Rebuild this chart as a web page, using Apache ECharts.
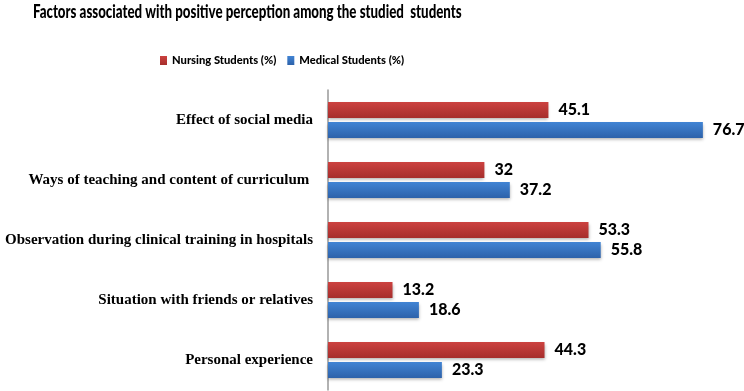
<!DOCTYPE html>
<html>
<head>
<meta charset="utf-8">
<script src="https://cdn.jsdelivr.net/npm/echarts@6/dist/echarts.min.js"></script>
<style>
  html, body { margin: 0; padding: 0; background: #fff; }
  #chart { width: 744px; height: 391px; }
</style>
</head>
<body>
<div id="chart"></div>
<script>
// categories, top to bottom
const categories = [
  "Effect of social media",
  "Ways of teaching and content of curriculum ",
  "Observation during clinical training in hospitals",
  "Situation with friends or relatives",
  "Personal experience"
];
const nursing = [45.1, 32, 53.3, 13.2, 44.3];
const medical = [76.7, 37.2, 55.8, 18.6, 23.3];
const seriesNames = ["Nursing Students (%)", "Medical Students (%)"];
const titleText = "Factors associated with positive perception among the studied  students";

const SANS = "Lato, sans-serif";

function grad(top, bottom) {
  return new echarts.graphic.LinearGradient(0, 0, 0, 1, [
    { offset: 0, color: top },
    { offset: 1, color: bottom }
  ]);
}

const valueLabel = {
  show: true,
  position: "right",
  distance: 10,
  color: "#000",
  fontWeight: 900,
  fontSize: 16,
  fontFamily: SANS
};

const chart = echarts.init(document.getElementById("chart"), null, { renderer: "canvas" });
chart.setOption({
  animation: false,
  // title drawn as graphic text so it can be narrowed like the original condensed font
  graphic: [{
    type: "text",
    left: 33,
    top: 2,
    scaleX: 0.7,
    originX: 0,
    style: {
      text: titleText,
      fontFamily: SANS,
      fontWeight: 900,
      fontSize: 19,
      fill: "#000"
    }
  }],
  legend: {
    top: 50,
    left: 155,
    itemWidth: 7,
    itemHeight: 9,
    itemGap: 11,
    icon: "rect",
    textStyle: { fontFamily: SANS, fontWeight: 900, fontSize: 11.2, color: "#000" },
    data: seriesNames
  },
  grid: { left: 328, top: 90, width: 391, bottom: 1, containLabel: false },
  xAxis: {
    type: "value",
    min: 0,
    max: 80,
    show: false
  },
  yAxis: {
    type: "category",
    inverse: true,
    data: categories,
    axisLine: { lineStyle: { color: "#999", width: 1.5 } },
    axisTick: { show: false },
    axisLabel: {
      margin: 15,
      color: "#000",
      fontFamily: "Liberation Serif",
      fontWeight: "bold",
      fontSize: 15
    }
  },
  series: [
    {
      name: seriesNames[0],
      type: "bar",
      data: nursing,
      barWidth: 16,
      barGap: "25%",
      itemStyle: { color: grad("#cc4240", "#a62e2c"), shadowColor: "rgba(0,0,0,0.3)", shadowBlur: 3, shadowOffsetY: 1.5 },
      label: valueLabel
    },
    {
      name: seriesNames[1],
      type: "bar",
      data: medical,
      barWidth: 16,
      itemStyle: { color: grad("#4184d4", "#2d62aa"), shadowColor: "rgba(0,0,0,0.3)", shadowBlur: 3, shadowOffsetY: 1.5 },
      label: valueLabel
    }
  ]
});
</script>
</body>
</html>
